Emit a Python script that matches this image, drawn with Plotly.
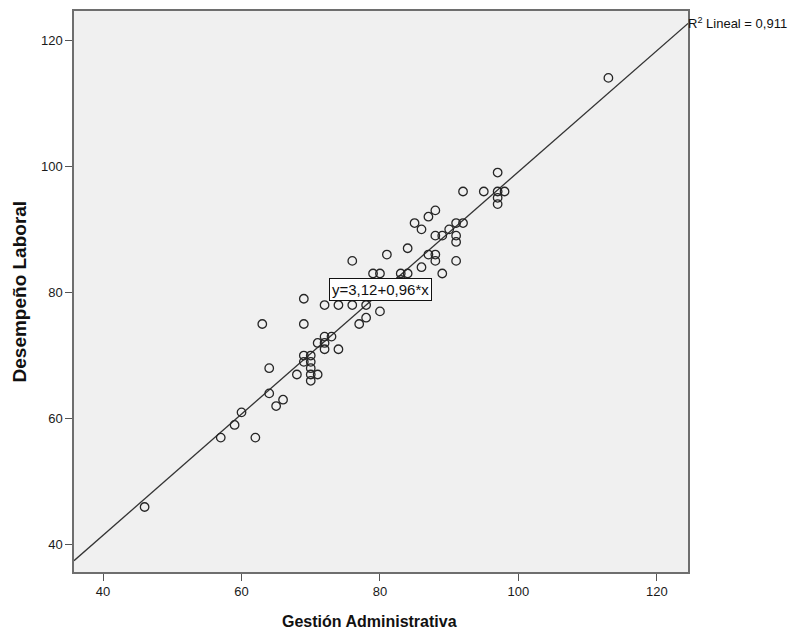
import numpy as np
import plotly.graph_objects as go

# Data
gestion = [46, 57, 59, 60, 62, 63, 64, 64, 65, 66, 68, 69, 69, 69, 69,
           70, 70, 70, 70, 70, 71, 71, 72, 73, 72, 72, 74, 72, 74, 76,
           78, 80, 78, 77, 76, 79, 80, 81, 83, 84, 83, 84, 85, 86, 86,
           87, 88, 87, 88, 88, 88, 89, 89, 90, 91, 92, 91, 91, 91, 92,
           95, 97, 98, 97, 97, 97, 113]
desempeno = [46, 57, 59, 61, 57, 75, 64, 68, 62, 63, 67, 79, 75, 70, 69,
             70, 69, 68, 67, 66, 67, 72, 73, 73, 72, 71, 71, 78, 78, 78,
             78, 77, 76, 75, 85, 83, 83, 86, 83, 83, 82, 87, 91, 90, 84,
             92, 93, 86, 86, 85, 89, 89, 83, 90, 91, 91, 89, 88, 85, 96,
             96, 96, 96, 95, 94, 99, 114]

intercept = 3.12
slope = 0.96
r2 = "0,911"
x_ticks = [40, 60, 80, 100, 120]
y_ticks = [40, 60, 80, 100, 120]
x_range = [35.8, 124.5]
y_range = [35.7, 124.6]

line_x = np.array(x_range)
line_y = intercept + slope * line_x

FONT = "Liberation Sans, Arial, sans-serif"

fig = go.Figure()
fig.add_trace(go.Scatter(
    x=line_x, y=line_y, mode="lines",
    line=dict(color="#333333", width=1.3),
    hoverinfo="skip", showlegend=False))
fig.add_trace(go.Scatter(
    x=gestion, y=desempeno, mode="markers",
    marker=dict(symbol="circle", size=8.5, color="rgba(0,0,0,0)",
                line=dict(color="#262626", width=1.3)),
    showlegend=False))

axis_common = dict(
    showgrid=False, zeroline=False, showline=True, mirror=True,
    linecolor="#6e6e6e", linewidth=1.5,
    ticks="outside", ticklen=7, tickwidth=1.2, tickcolor="#555555",
    tickfont=dict(family=FONT, size=13, color="#1a1a1a"),
)

fig.update_xaxes(range=x_range, tickvals=x_ticks, **axis_common)
fig.update_yaxes(range=y_range, tickvals=y_ticks, **axis_common)

fig.update_layout(
    width=795, height=633,
    margin=dict(l=74, r=107, t=9, b=61),
    plot_bgcolor="#f0f0f0", paper_bgcolor="#ffffff",
    annotations=[
        dict(text="<b>Gestión Administrativa</b>", xref="paper", yref="paper",
             x=0.482, y=-0.089, xanchor="center", yanchor="middle",
             showarrow=False, font=dict(family=FONT, size=16, color="#111111")),
        dict(text="<b>Desempeño Laboral</b>", xref="paper", yref="paper",
             x=-0.088, y=0.5, xanchor="center", yanchor="middle", textangle=-90,
             showarrow=False, font=dict(family=FONT, size=19, color="#111111")),
        dict(text="R<sup>2</sup> Lineal = " + r2, xref="paper", yref="paper",
             x=0.997, y=0.978,
             xanchor="left", yanchor="middle", showarrow=False,
             font=dict(family=FONT, size=13, color="#111111")),
        dict(text="y=3,12+0,96*x", x=80.05, y=80.4, xref="x", yref="y",
             xanchor="center", yanchor="middle", showarrow=False,
             bgcolor="#ffffff", bordercolor="#111111", borderwidth=1, borderpad=2,
             font=dict(family=FONT, size=15, color="#111111")),
    ],
)

fig.write_html("out.html", config={"displayModeBar": False},
               post_script="document.body.style.margin='0';")
